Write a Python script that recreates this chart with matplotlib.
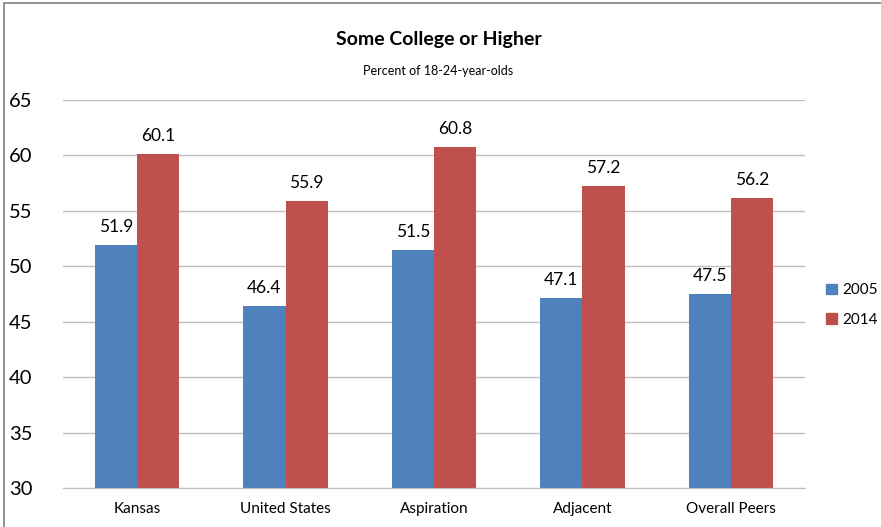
import matplotlib.pyplot as plt
import matplotlib.patches as mpatches
import numpy as np

plt.rcParams['font.family'] = ['Lato', 'DejaVu Sans']

categories = ["Kansas", "United States", "Aspiration", "Adjacent", "Overall Peers"]
years = ["2005", "2014"]
values_2005 = [51.9, 46.4, 51.5, 47.1, 47.5]
values_2014 = [60.1, 55.9, 60.8, 57.2, 56.2]
colors = ["#4F81BD", "#C0504D"]

fig = plt.figure(figsize=(8.81, 5.27), dpi=100)
ax = fig.add_axes([63 / 881, 1 - 488 / 527, 742 / 881, 388 / 527])

x = np.arange(len(categories))
w = 0.285
b1 = ax.bar(x - w / 2, values_2005, w, color=colors[0], label=years[0], zorder=2)
b2 = ax.bar(x + w / 2, values_2014, w, color=colors[1], label=years[1], zorder=2)

for bars, vals in ((b1, values_2005), (b2, values_2014)):
    for bar, v in zip(bars, vals):
        ax.text(bar.get_x() + bar.get_width() / 2, v + 0.9, "%.1f" % v,
                ha="center", va="bottom", fontsize=12.5, color="#000000")

ax.set_ylim(30, 65)
ax.set_xlim(-0.5, len(categories) - 0.5)
ax.set_yticks(range(30, 66, 5))
ax.tick_params(axis="y", length=0, labelsize=14.5, pad=22)
ax.tick_params(axis="x", length=0, labelsize=11, pad=10)
ax.set_xticks(x)
ax.set_xticklabels(categories)
ax.grid(axis="y", color="#BFBFBF", linewidth=1, zorder=0)
for s in ("top", "right", "left"):
    ax.spines[s].set_visible(False)
ax.spines["bottom"].set_color("#BFBFBF")

fig.text(0.5 * (63 + 805) / 881 + 0.005, 1 - 40 / 527, "Some College or Higher",
         ha="center", va="center", fontsize=14, fontweight="bold")
fig.text(0.5 * (63 + 805) / 881 + 0.005, 1 - 71 / 527, "Percent of 18-24-year-olds",
         ha="center", va="center", fontsize=9)

handles = [mpatches.Patch(color=c) for c in colors]
fig.legend(handles, years, loc="center left", bbox_to_anchor=(826 / 881, 1 - 305 / 527),
           frameon=False, fontsize=11, handlelength=0.7, handleheight=0.7,
           handletextpad=0.35, labelspacing=1.0, borderpad=0, borderaxespad=0)

# outer chart border (left and top edges visible)
fig.patches.append(mpatches.Rectangle((4 / 881, -0.1), 1.2, 1 - 3 / 527 + 0.1,
                                      transform=fig.transFigure, fill=False,
                                      edgecolor="#7F7F7F", linewidth=1.2))

fig.savefig("out.png", dpi=100)
